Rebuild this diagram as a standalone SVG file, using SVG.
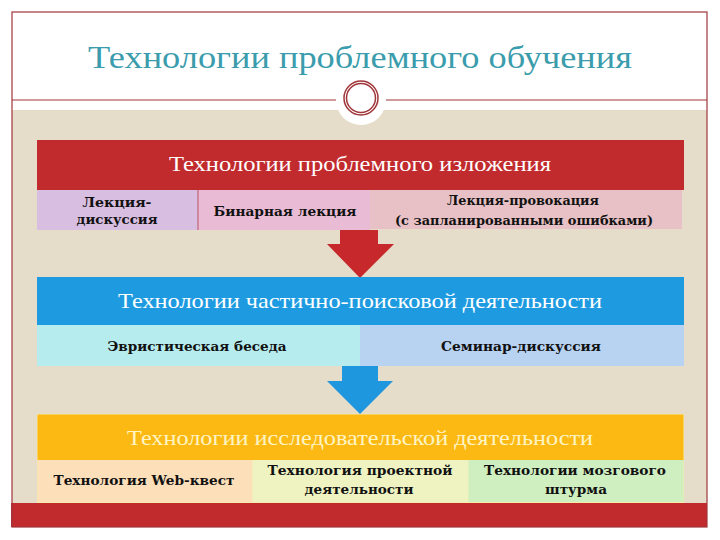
<svg xmlns="http://www.w3.org/2000/svg" width="720" height="540" viewBox="0 0 720 540">
<style>
.title{font-family:"Liberation Serif","DejaVu Serif",serif;font-size:31px;fill:#3A9CAC;text-anchor:middle}
.head{font-family:"Liberation Serif","DejaVu Serif",serif;font-size:21px;text-anchor:middle}
.cell{font-family:"DejaVu Serif","Liberation Serif",serif;font-size:13.5px;font-weight:bold;fill:#111;text-anchor:middle}
.frame{fill:none;stroke:#A0363A;stroke-width:1.2}
</style>
<rect x="0" y="0" width="720" height="540" fill="#FFFFFF"/>
<g id="background">
<rect x="12" y="110" width="695" height="393" fill="#E5DCC9"/>
<rect x="11" y="503" width="696" height="24" fill="#C12B2E"/>
<rect x="12" y="12" width="695" height="515" class="frame"/>
<line x1="12" y1="100" x2="338" y2="100" stroke="#A0363A" stroke-width="1.2"/>
<line x1="383" y1="100" x2="707" y2="100" stroke="#A0363A" stroke-width="1.2"/>
<circle cx="361" cy="100" r="25" fill="#FFFFFF"/>
<circle cx="361" cy="98" r="17" fill="none" stroke="#A0363A" stroke-width="1.5"/>
<circle cx="361" cy="98" r="14.5" fill="none" stroke="#A0363A" stroke-width="1.5"/>
</g>
<g id="title">
<text class="title" x="360" y="68" textLength="544" lengthAdjust="spacingAndGlyphs">Технологии проблемного обучения</text>
</g>
<g id="connectors">
<polygon points="340,230 378,230 378,244 394,244 360,278 327,244 340,244" fill="#C7282C"/>
<polygon points="342,366 378,366 378,381 393,381 360,414 327,381 342,381" fill="#1E97DE"/>
</g>
<g id="section1">
<rect x="37" y="140" width="647" height="50" fill="#C12B2E"/>
<text class="head" x="360" y="171" fill="#FFFFFF" textLength="382" lengthAdjust="spacingAndGlyphs">Технологии проблемного изложения</text>
<rect x="37" y="190" width="161" height="40" fill="#D8BEE0"/>
<rect x="198" y="190" width="172" height="40" fill="#E9BBD5"/>
<rect x="370" y="190" width="312" height="39" fill="#E7C1C5"/>
<line x1="198" y1="190" x2="198" y2="230" stroke="#B03A45" stroke-width="0.8"/>
<text class="cell" x="117" y="207" textLength="69" lengthAdjust="spacingAndGlyphs">Лекция-</text>
<text class="cell" x="117" y="224" textLength="81" lengthAdjust="spacingAndGlyphs">дискуссия</text>
<text class="cell" x="285" y="216" textLength="143" lengthAdjust="spacingAndGlyphs">Бинарная лекция</text>
<text class="cell" x="523" y="205" textLength="152" lengthAdjust="spacingAndGlyphs">Лекция-провокация</text>
<text class="cell" x="524" y="225" textLength="258" lengthAdjust="spacingAndGlyphs">(с запланированными ошибками)</text>
</g>
<g id="section2">
<rect x="37" y="277" width="647" height="48" fill="#1E9BE0"/>
<text class="head" x="360" y="308" fill="#FFFFFF" textLength="484" lengthAdjust="spacingAndGlyphs">Технологии частично-поисковой деятельности</text>
<rect x="37" y="325" width="323" height="41" fill="#B7ECEE"/>
<rect x="360" y="325" width="324" height="41" fill="#B8D3F2"/>
<text class="cell" x="197" y="351" textLength="179" lengthAdjust="spacingAndGlyphs">Эвристическая беседа</text>
<text class="cell" x="521" y="351" textLength="160" lengthAdjust="spacingAndGlyphs">Семинар-дискуссия</text>
</g>
<g id="section3">
<rect x="37" y="414" width="647" height="89" fill="#F6EDA8"/>
<rect x="37.5" y="414.5" width="646" height="46" fill="#FDB913"/>
<text class="head" x="360" y="445" fill="#FFF4C4" textLength="466" lengthAdjust="spacingAndGlyphs">Технологии исследовательской деятельности</text>
<rect x="37.5" y="460" width="215" height="42" fill="#FDDFBA"/>
<rect x="252.5" y="460" width="216" height="42" fill="#EFF3C2"/>
<rect x="468.5" y="460" width="215" height="42" fill="#CFEFC1"/>
<text class="cell" x="144" y="485" textLength="181" lengthAdjust="spacingAndGlyphs">Технология Web-квест</text>
<text class="cell" x="360" y="475" textLength="185" lengthAdjust="spacingAndGlyphs">Технология проектной</text>
<text class="cell" x="359" y="494" textLength="109" lengthAdjust="spacingAndGlyphs">деятельности</text>
<text class="cell" x="575" y="475" textLength="182" lengthAdjust="spacingAndGlyphs">Технологии мозгового</text>
<text class="cell" x="576" y="494" textLength="62" lengthAdjust="spacingAndGlyphs">штурма</text>
</g>
</svg>
